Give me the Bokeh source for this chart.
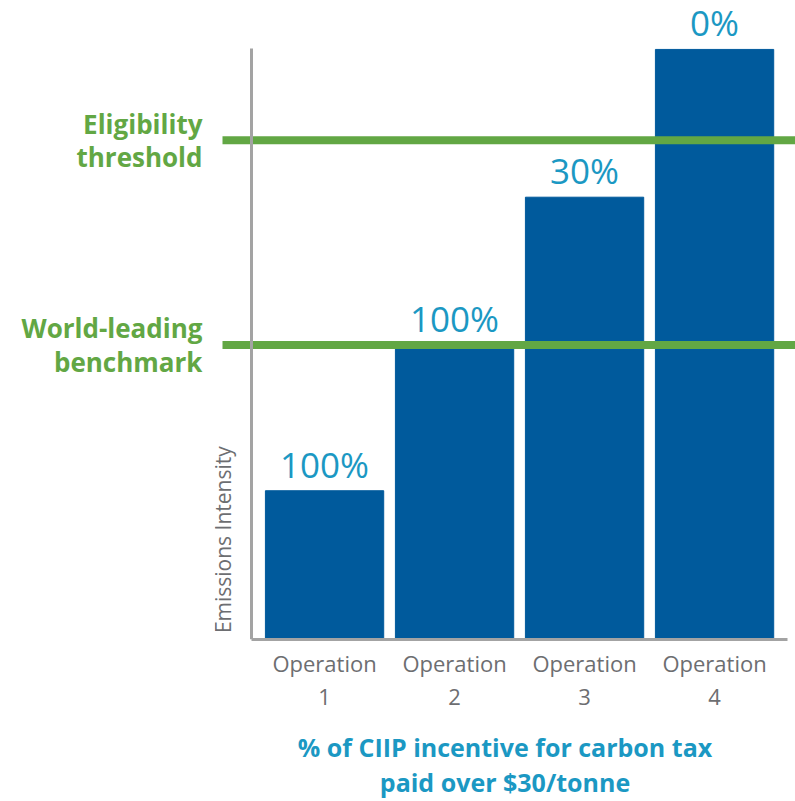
from math import pi
from bokeh.plotting import figure
from bokeh.models import Label, FixedTicker, Range1d, LinearAxis
from bokeh.embed import file_html
from bokeh.resources import INLINE

# ---- data ----
operations = ["Operation\n1", "Operation\n2", "Operation\n3", "Operation\n4"]
positions = [1, 2, 3, 4]
emissions = [1.49, 2.95, 4.43, 5.91]
incentive = ["100%", "100%", "30%", "0%"]
ref_values = [5.0, 2.95]          # eligibility threshold, world-leading benchmark
ref_names = ["Eligibility\nthreshold", "World-leading\nbenchmark"]
y_title = "Emissions Intensity"
x_title = "% of CIIP incentive for carbon tax\npaid over $30/tonne"

BAR = "#005a9c"
GREEN = "#62a744"
TEAL = "#1b98c3"
GRAY_TXT = "#6d6e71"
AXIS = "#a3a3a3"
FONT = "Open Sans"

PX = 130.0          # pixels per x unit
axis_x = 0.438      # where the value axis sits
frame_left = 214    # canvas px of frame left
x0 = axis_x - (251 - frame_left) / PX
x1 = axis_x + (795 - 251) / PX

p = figure(width=795, height=801, output_backend="svg", toolbar_location=None,
           x_range=Range1d(x0, x1), y_range=Range1d(0, 6.40),
           min_border_left=frame_left, min_border_right=0, min_border_top=0,
           min_border_bottom=161)
p.outline_line_color = None
p.grid.visible = False
p.background_fill_color = "white"
p.border_fill_color = "white"

p.vbar(x=positions, top=emissions, width=0.91, color=BAR)

# green reference lines (start a little left of the value axis)
line_start = axis_x - 29 / PX
p.segment(x0=[line_start] * len(ref_values), x1=[x1] * len(ref_values),
          y0=ref_values, y1=ref_values, line_color=GREEN, line_width=8)

# percentage labels above bars
p.text(x=positions, y=[v + 0.265 for v in emissions], text=incentive,
       text_align="center", text_baseline="alphabetic", text_color=TEAL,
       text_font={"value": FONT}, text_font_size="35px")

# y axis title (rotated)
p.add_layout(Label(x=axis_x - 29 / PX, y=1.0, text=y_title, angle=pi / 2,
                   text_align="center", text_baseline="middle",
                   text_color=GRAY_TXT, text_font=FONT, text_font_size="21px"))

# left axis carrying the reference-line names
la = p.yaxis[0]
la.ticker = FixedTicker(ticks=ref_values)
la.major_label_overrides = {k: v for k, v in zip(ref_values, ref_names)}
la.axis_line_color = None
la.major_tick_line_color = None
la.minor_tick_line_color = None
la.major_tick_out = 0
la.major_tick_in = 0
la.major_label_standoff = 12
la.major_label_text_font = FONT
la.major_label_text_font_style = "bold"
la.major_label_text_font_size = "26px"
la.major_label_text_color = GREEN
la.major_label_text_line_height = 0.93

# value axis line
va = LinearAxis(fixed_location=axis_x, ticker=FixedTicker(ticks=[]),
                bounds=(0, 5.92), axis_line_color=AXIS, axis_line_width=3,
                major_tick_line_color=None, minor_tick_line_color=None,
                major_tick_out=0, major_tick_in=0, major_label_standoff=0,
                major_label_text_font_size="0px")
p.add_layout(va, "left")

# x axis
xa = p.xaxis[0]
xa.ticker = FixedTicker(ticks=positions)
xa.major_label_overrides = {k: v for k, v in zip(positions, operations)}
xa.bounds = (axis_x, axis_x + 536 / PX)
xa.axis_line_color = AXIS
xa.axis_line_width = 3
xa.major_tick_line_color = None
xa.minor_tick_line_color = None
xa.major_tick_out = 0
xa.major_label_text_font = FONT
xa.major_label_text_font_size = "22px"
xa.major_label_text_color = GRAY_TXT
xa.major_label_standoff = 8
xa.major_label_text_line_height = 1.10
xa.axis_label = x_title
xa.axis_label_text_font = FONT
xa.axis_label_text_font_style = "bold"
xa.axis_label_text_font_size = "25px"
xa.axis_label_text_color = TEAL
xa.axis_label_standoff = 16
xa.axis_label_text_line_height = 1.03

open("out.html", "w").write(file_html(p, INLINE))
